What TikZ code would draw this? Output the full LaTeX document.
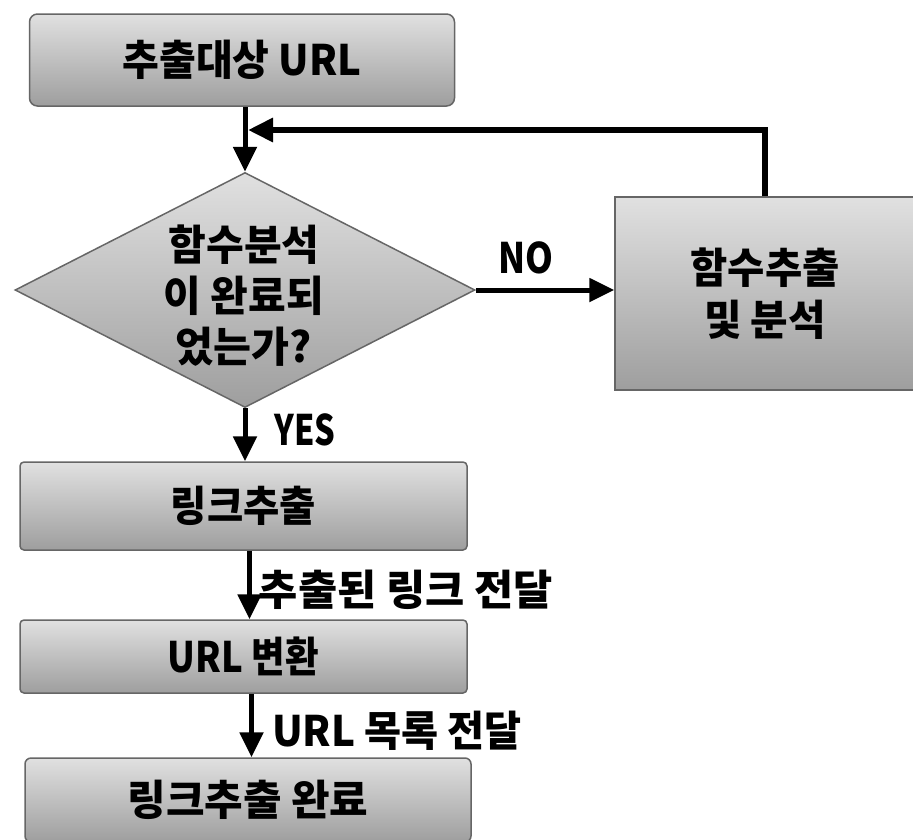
\documentclass[tikz,border=0pt]{standalone}
\usepackage{fontspec}
\setmainfont{Noto Sans CJK KR}
\usetikzlibrary{arrows.meta,shapes.geometric}
\newcommand{\tw}[2]{\resizebox{#1}{\height}{#2}}
\begin{document}
\begin{tikzpicture}[x=1pt,y=-1pt,
  box/.style={draw=black!60, line width=1.5pt, top color=black!12, bottom color=black!38,
    inner sep=0pt, font=\fontsize{42}{52}\selectfont\bfseries, align=center},
  lbl/.style={inner sep=0pt, font=\fontsize{42}{51}\selectfont\bfseries, align=center},
  conn/.style={line width=5pt, -{Triangle[length=25pt,width=23pt]}}]
\clip (0,0) rectangle (913,839);
\fill[white] (0,0) rectangle (913,839);
% boxes
\node[box, rounded corners=8pt, minimum width=425pt, minimum height=92pt] (b1) at (242,60) {\tw{239pt}{추출대상 URL}};
\node[box, shape=diamond, minimum width=460pt, minimum height=235pt] (d) at (245,290) {};
\node[lbl] (dt) at (244,296) {\tw{151pt}{함수분석}\\\tw{160pt}{이 완료되}\\\tw{136pt}{었는가?}};
\node[box, minimum width=300pt, minimum height=193pt] (f) at (765,293.5) {\tw{149pt}{함수추출}\\\tw{122pt}{및 분석}};
\node[box, rounded corners=4pt, minimum width=447pt, minimum height=88pt] (b2) at (243.5,506) {\tw{145pt}{링크추출}};
\node[box, rounded corners=4pt, minimum width=447pt, minimum height=73pt] (b3) at (243.5,656.5) {\tw{151pt}{URL 변환}};
\node[box, rounded corners=6pt, minimum width=446pt, minimum height=84pt] (b4) at (248,800) {\tw{241pt}{링크추출 완료}};
% labels
\node[lbl] (no) at (526,258) {\tw{55pt}{NO}};
\node[lbl] (yes) at (305,430) {\tw{61pt}{YES}};
\node[lbl] (l1) at (406,590) {\tw{294pt}{추출된 링크 전달}};
\node[lbl] (l2) at (397,731) {\tw{250pt}{URL 목록 전달}};
% connectors
\coordinate (j) at (248,130);
\draw[conn] (d.north |- b1.south) -- (d.north);
\draw[line width=6pt, -{Triangle[length=25pt,width=23pt]}] (f.north) |- (j);
\draw[conn] (d.east) -- (d.east -| f.west);
\draw[conn] (d.south) -- (d.south |- b2.north);
\draw[conn] ([xshift=6pt]b2.south) -- ([xshift=6pt]b2.south |- b3.north);
\draw[conn] ([xshift=8pt]b3.south) -- ([xshift=8pt]b3.south |- b4.north);
\end{tikzpicture}
\end{document}
